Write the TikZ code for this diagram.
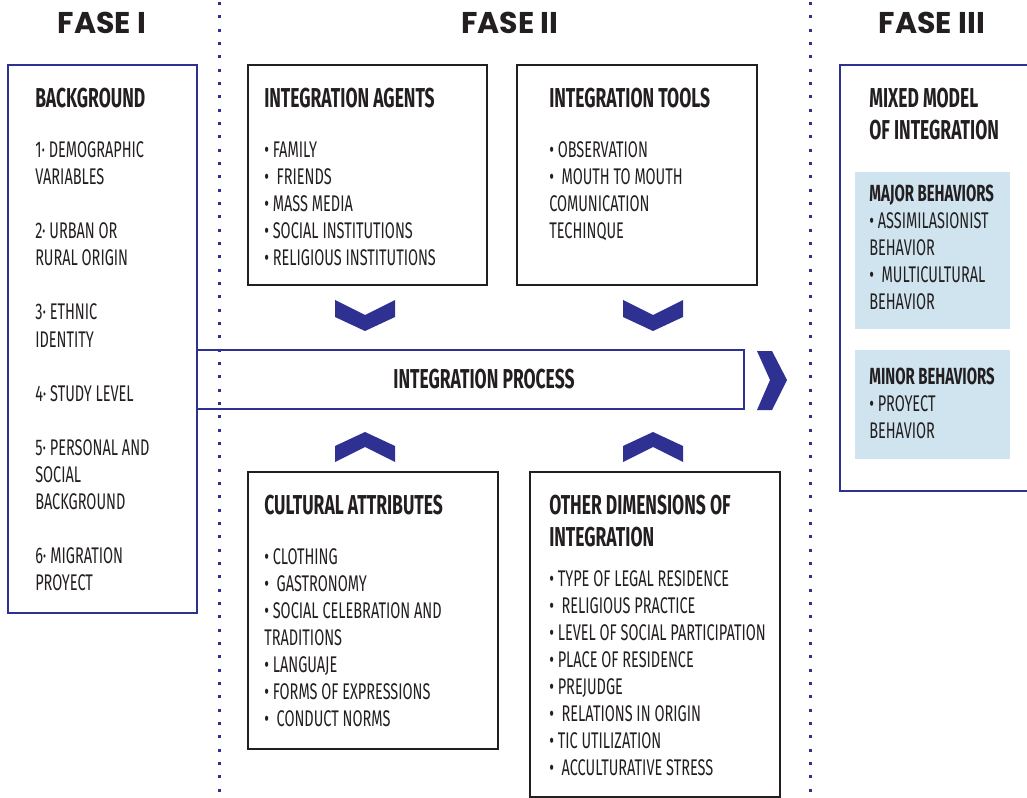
\documentclass[tikz,border=0pt]{standalone}
\usepackage{fontspec}
\setmainfont{Fira Sans}[FakeStretch=0.64]
\newfontfamily\fasefont{Poppins}
\usetikzlibrary{fit}
\definecolor{navy}{HTML}{2E3192}
\definecolor{lblue}{HTML}{CFE4EF}
\definecolor{ink}{HTML}{231F20}
\tikzset{
  itm/.style={anchor=base west, inner sep=0pt, text=ink, font=\fontsize{17}{20}\selectfont},
  ttl/.style={anchor=base west, inner sep=0pt, text=ink, font=\fontsize{20.5}{24}\selectfont\bfseries},
  subttl/.style={anchor=base west, inner sep=0pt, text=ink, font=\fontsize{17.5}{20}\selectfont\bfseries},
  fase/.style={anchor=base, inner sep=0pt, text=ink, font=\fontsize{22.5}{26}\selectfont\fasefont\bfseries},
  blackbox/.style={draw=ink, line width=1.5pt, inner sep=0pt},
  navybox/.style={draw=navy, line width=1.5pt, inner sep=0pt},
  bluebox/.style={fill=lblue, inner sep=0pt},
  chev/.style={fill=navy},
  divider/.style={draw=navy, line width=2.25pt, dash pattern=on 2.25pt off 7.75pt},
}
\newcommand\itemlines[4]{%
  \foreach \txt [count=\k from 0] in {#4} {\node[itm] (#1-\k) at (#2, {#3+27*\k}) {\txt};}}
\begin{document}
\begin{tikzpicture}[x=0.75pt, y=-0.75pt]
\useasboundingbox (0,0) rectangle (1027,798);
% headings
\node[fase] (f1) at (102,34) {FASE I};
\node[fase] (f2) at (510,34) {FASE II};
\node[fase] (f3) at (932,34) {FASE III};
% dividers
\coordinate (d1t) at (219,2); \coordinate (d1b) at (219,798);
\coordinate (d2t) at (810,2); \coordinate (d2b) at (810,798);
\draw[divider] (d1t) -- (d1b);
\draw[divider] (d2t) -- (d2b);
% light blue boxes
\node[bluebox, fit={(855,172) (1010,329)}] (major) {};
\node[bluebox, fit={(855,350) (1010,459)}] (minor) {};
% boxes
\node[navybox, fit={(8,65) (197,613)}] (bg) {};
\node[blackbox, fit={(248,65) (487,285)}] (agents) {};
\node[blackbox, fit={(517,65) (757,285)}] (tools) {};
\node[navybox, fit={(197,350) (744,409)}] (proc) {};
\node[blackbox, fit={(248,472) (498,749)}] (cult) {};
\node[blackbox, fit={(530,472) (780,797)}] (other) {};
\coordinate (mmA) at (1032,65); \coordinate (mmB) at (840,65);
\coordinate (mmC) at (840,491); \coordinate (mmD) at (1032,491);
\draw[navy, line width=1.5pt] (mmA) -- (mmB) -- (mmC) -- (mmD);
% chevrons
\fill[chev] (335,300) -- (365,315) -- (395,300) -- (395,317) -- (365,331) -- (335,317) -- cycle;
\fill[chev] (623,300) -- (653,315) -- (683,300) -- (683,317) -- (653,331) -- (623,317) -- cycle;
\fill[chev] (335,446) -- (365,432) -- (395,446) -- (395,462) -- (365,447) -- (335,462) -- cycle;
\fill[chev] (623,446) -- (653,432) -- (683,446) -- (683,462) -- (653,447) -- (623,462) -- cycle;
\fill[chev] (757,351) -- (772,351) -- (787,380) -- (772,410) -- (757,410) -- (770,380) -- cycle;
% titles
\node[ttl] (bgT) at (35,108) {BACKGROUND};
\node[ttl] (agT) at (264,108) {INTEGRATION AGENTS};
\node[ttl] (toT) at (549,108) {INTEGRATION TOOLS};
\node[ttl] (cuT) at (264,514) {CULTURAL ATTRIBUTES};
\node[ttl] (otT1) at (549,514) {OTHER DIMENSIONS OF};
\node[ttl] (otT2) at (549,546) {INTEGRATION};
\node[ttl] (mmT1) at (869,108) {MIXED MODEL};
\node[ttl] (mmT2) at (869,140) {OF INTEGRATION};
\node[ttl, anchor=base] (prT) at (484,388) {INTEGRATION PROCESS};
\node[subttl] (maT) at (869,202) {MAJOR BEHAVIORS};
\node[subttl] (miT) at (869,384) {MINOR BEHAVIORS};
% items
\itemlines{bgI}{35}{158}{{1· DEMOGRAPHIC},{VARIABLES},{},{2· URBAN OR},{RURAL ORIGIN},{},{3· ETHNIC},{IDENTITY},{},{4· STUDY LEVEL},{},{5· PERSONAL AND},{SOCIAL},{BACKGROUND},{},{6· MIGRATION},{PROYECT}}
\itemlines{agI}{264}{158}{{• FAMILY},{• \ FRIENDS},{• MASS MEDIA},{• SOCIAL INSTITUTIONS},{• RELIGIOUS INSTITUTIONS}}
\itemlines{toI}{549}{158}{{• OBSERVATION},{• \ MOUTH TO MOUTH},{COMUNICATION},{TECHINQUE}}
\itemlines{cuI}{264}{564}{{• CLOTHING},{• \ GASTRONOMY},{• SOCIAL CELEBRATION AND},{TRADITIONS},{• LANGUAJE},{• FORMS OF EXPRESSIONS},{• \ CONDUCT NORMS}}
\itemlines{otI}{549}{586}{{• TYPE OF LEGAL RESIDENCE},{• \ RELIGIOUS PRACTICE},{• LEVEL OF SOCIAL PARTICIPATION},{• PLACE OF RESIDENCE},{• PREJUDGE},{• \ RELATIONS IN ORIGIN},{• TIC UTILIZATION},{• \ ACCULTURATIVE STRESS}}
\itemlines{maI}{869}{229}{{• ASSIMILASIONIST},{BEHAVIOR},{• \ MULTICULTURAL},{BEHAVIOR}}
\itemlines{miI}{869}{411}{{• PROYECT},{BEHAVIOR}}
\end{tikzpicture}
\end{document}
